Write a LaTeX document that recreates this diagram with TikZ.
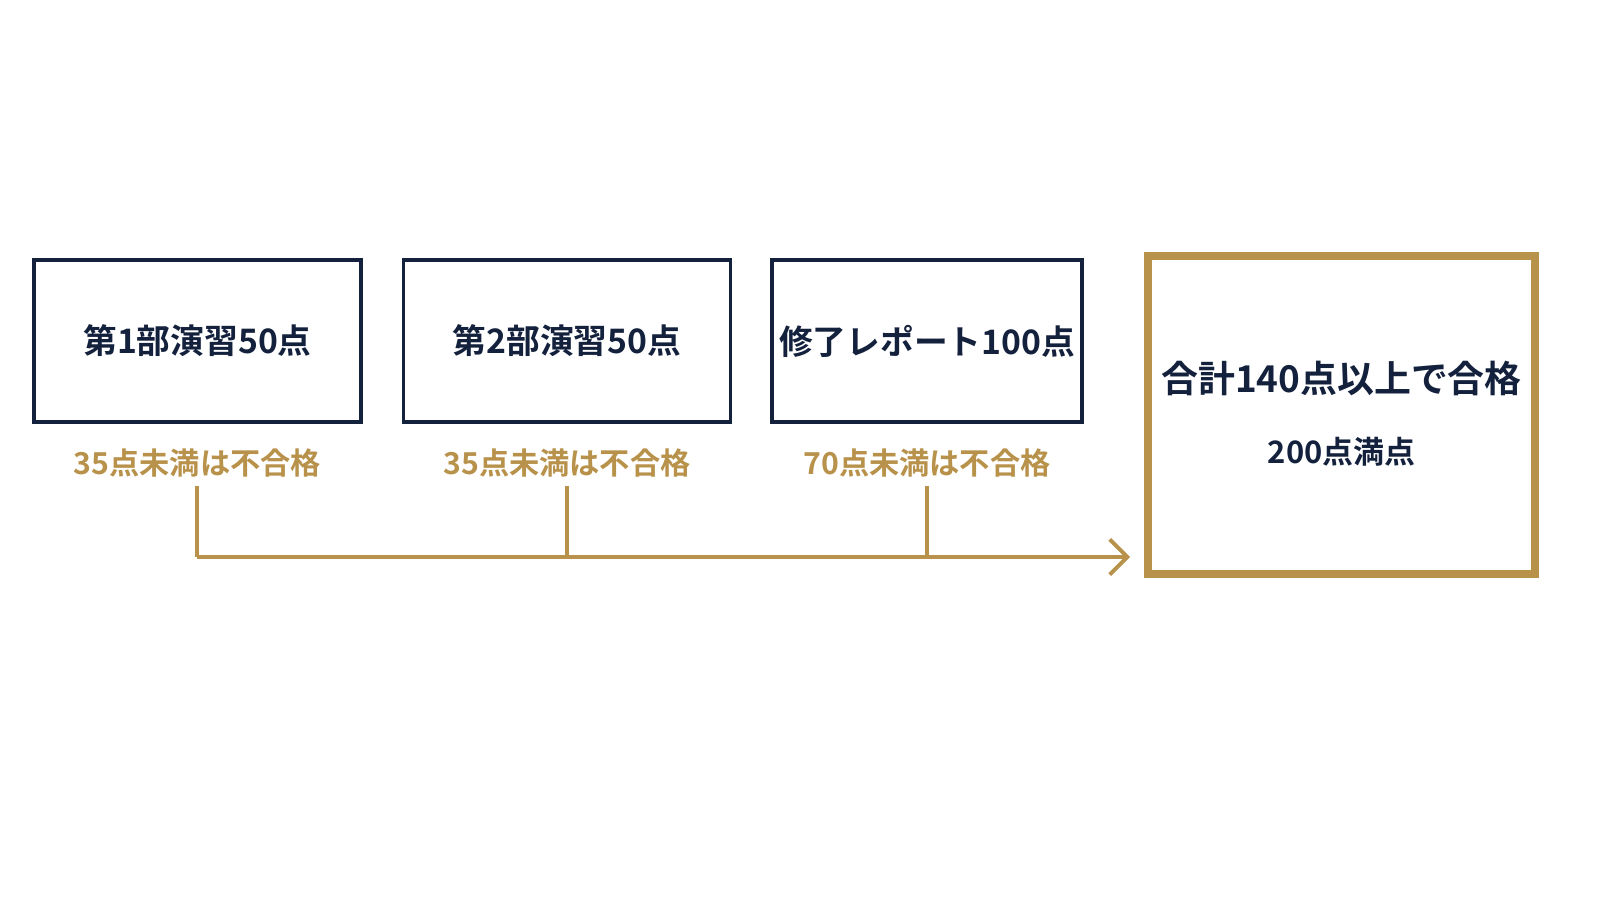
\documentclass[tikz,border=0pt]{standalone}
\usepackage{fontspec}
\setmainfont{Noto Sans CJK JP}[BoldFont={Noto Sans CJK JP Bold}]
\usetikzlibrary{arrows.meta, positioning}
\definecolor{navy}{HTML}{14213D}
\definecolor{gold}{HTML}{B8914A}
\begin{document}
\begin{tikzpicture}[
            font=\bfseries,
            part/.style={rectangle, draw=navy, line width=1.1pt, minimum width=3.27cm, minimum height=1.62cm, text=navy, font=\bfseries\fontsize{9.6}{11}\selectfont},
            note/.style={text=gold, font=\bfseries\fontsize{8.6}{10}\selectfont},
            flow/.style={draw=gold, line width=1.1pt}
        ]
        \useasboundingbox (0,0) rectangle (16,9);
        % Parts
        \node[part] (part1) at (1.975,5.59) {第1部演習50点};
        \node[part] (part2) at (5.67,5.59) {第2部演習50点};
        \node[part, minimum width=3.1cm, inner sep=1pt] (part3) at (9.27,5.59) {修了レポート100点};

        % Thresholds
        \node[note, below=0.12cm of part1] (req1) {35点未満は不合格};
        \node[note, below=0.12cm of part2] (req2) {35点未満は不合格};
        \node[note, below=0.12cm of part3] (req3) {70点未満は不合格};

        % Total
        \node[rectangle, draw=gold, line width=2.2pt, minimum width=3.87cm, minimum height=3.18cm] (total) at (13.415,4.85) {};
        \node[text=navy, font=\bfseries\fontsize{10.5}{12}\selectfont] (sum) at (13.415,5.22) {合計140点以上で合格};
        \node[text=navy, font=\bfseries\fontsize{8.8}{10}\selectfont] (full) at (13.415,4.48) {200点満点};

        % Connections
        \coordinate (j1) at (1.97,3.43);
        \coordinate (j2) at (5.67,3.43);
        \coordinate (j3) at (9.27,3.43);
        \coordinate (end) at (11.3,3.43);
        \draw[flow] (1.97,4.14) -- (j1);
        \draw[flow] (5.67,4.14) -- (j2);
        \draw[flow] (9.27,4.14) -- (j3);
        \draw[flow, -{Straight Barb[length=5pt, width=10pt]}] (j1) -- (end);
\end{tikzpicture}
\end{document}
